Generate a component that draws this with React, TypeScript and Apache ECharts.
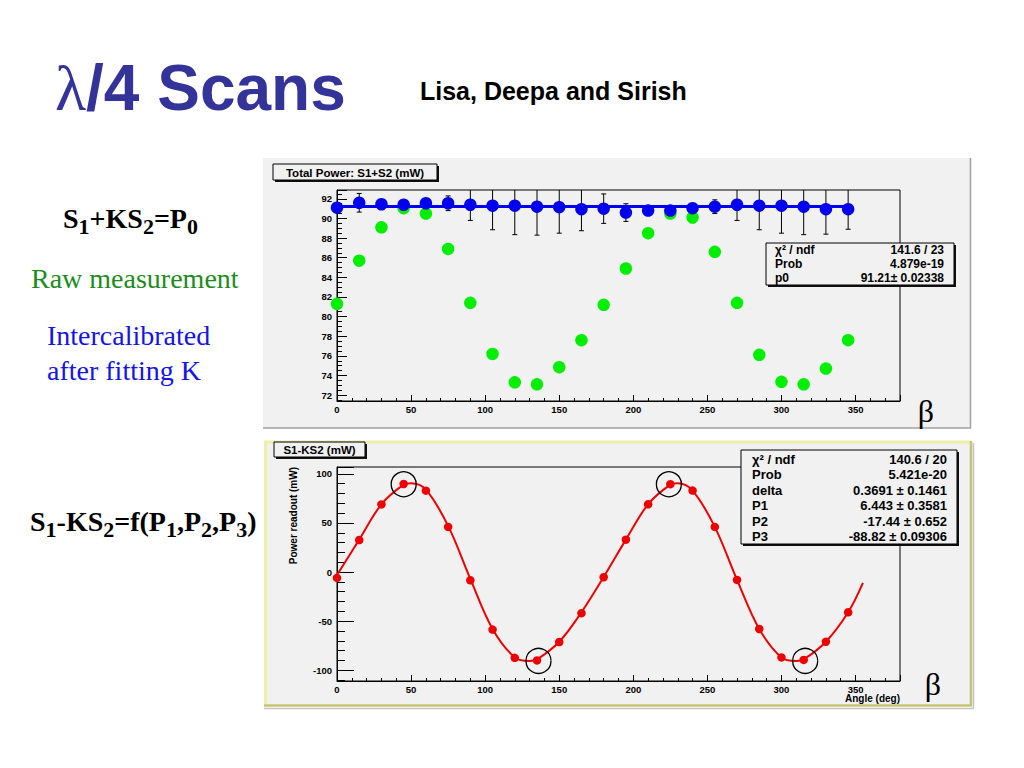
import { useEffect, useRef } from 'react';
import * as echarts from 'echarts';

// ---------- data ----------
const angles = [0, 15, 30, 45, 60, 75, 90, 105, 120, 135, 150, 165, 180, 195, 210, 225, 240, 255, 270, 285, 300, 315, 330, 345];
const intercalibrated = [91.1, 91.6, 91.45, 91.4, 91.55, 91.55, 91.4, 91.3, 91.3, 91.2, 91.15, 90.95, 91.0, 90.6, 90.8, 90.8, 91.05, 91.2, 91.4, 91.3, 91.3, 91.2, 90.95, 90.95];
const intercalibratedErr = [0.2, 0.95, 0.2, 0.2, 0.2, 0.75, 1.6, 2.45, 2.95, 2.9, 2.65, 2.2, 1.5, 0.9, 0.2, 0.2, 0.2, 0.7, 1.6, 2.45, 2.8, 2.85, 2.55, 2.05];
const rawMeasurement = [81.3, 85.7, 89.1, 91.05, 90.5, 86.9, 81.4, 76.2, 73.3, 73.1, 74.85, 77.6, 81.2, 84.9, 88.5, 90.5, 90.1, 86.6, 81.4, 76.1, 73.35, 73.1, 74.7, 77.6];
const difference = [-6, 32.6, 68.9, 89.7, 82.9, 46, -8.4, -58.6, -87.4, -90, -71.3, -41.9, -5.3, 33, 69, 89.5, 83, 46, -8, -58, -87, -89.5, -71, -41];
const p0Value = 91.21;
const p0Range = [0, 347];
const fitCurveX = [0, 15, 30, 45, 50, 60, 75, 90, 105, 120, 130, 135, 150, 165, 180, 195, 210, 225, 230, 240, 255, 270, 285, 300, 310, 315, 330, 345, 355];
const fitCurveY = [-3, 33, 69, 89, 90.5, 84, 47, -7, -58, -87, -90.5, -89, -71, -41, -5, 33, 69, 89, 90.5, 83, 46, -8, -58, -87, -90.5, -89, -71, -41, -11];
const markedX = [45, 136, 224, 316];
const markedY = [89.5, -90.5, 89.5, -90.5];

const stats1Labels = ['χ² / ndf', 'Prob', 'p0'];
const stats1Values = ['141.6 / 23', '4.879e-19', '91.21± 0.02338'];
const stats2Labels = ['χ² / ndf', 'Prob', 'delta', 'P1', 'P2', 'P3'];
const stats2Values = ['140.6 / 20', '5.421e-20', '0.3691 ± 0.1461', '6.443 ± 0.3581', '-17.44 ± 0.652', '-88.82 ± 0.09306'];

const SANS = "'Liberation Sans', Arial, Helvetica, sans-serif";
const SERIF = "'Liberation Serif', 'Times New Roman', serif";
const PAD = '#f1f1f1';

function paveBox(x: number, y: number, w: number, h: number) {
  return [
    { type: 'rect', z: 50, shape: { x: x + 2, y: y + 2, width: w, height: h }, style: { fill: '#111' } },
    { type: 'rect', z: 51, shape: { x, y, width: w, height: h }, style: { fill: PAD, stroke: '#000', lineWidth: 1 } },
  ];
}

export default function App() {
  const ref = useRef<HTMLDivElement>(null);
  useEffect(() => {
    if (!ref.current) return;
    const chart = echarts.init(ref.current, undefined, { renderer: 'svg' });

    const axisLabelStyle = { color: '#000', fontFamily: SANS, fontWeight: 'bold' as const, fontSize: 9.5 };
    const xAxisCommon = {
      type: 'value', min: 0, max: 380, interval: 50,
      axisLine: { show: true, onZero: false, lineStyle: { color: '#000', width: 1 } },
      axisTick: { show: true, inside: true, length: 6, lineStyle: { color: '#000' } },
      minorTick: { show: true, splitNumber: 5, length: 3, lineStyle: { color: '#000' } },
      splitLine: { show: false },
      axisLabel: { ...axisLabelStyle, margin: 3, showMaxLabel: false },
    };

    const errorBarData = angles.map((a, i) => [a, intercalibrated[i], intercalibratedErr[i]]);

    const subRich = {
      b: { fontFamily: SERIF, fontWeight: 'bold', fontSize: 28, lineHeight: 38, fill: '#000' },
      s: { fontFamily: SERIF, fontWeight: 'bold', fontSize: 22, lineHeight: 19, verticalAlign: 'bottom', fill: '#000' },
    };

    const graphic: any[] = [
      // top pad
      { type: 'rect', z: -10, shape: { x: 263, y: 158, width: 707, height: 270 }, style: { fill: PAD } },
      { type: 'line', z: -9, shape: { x1: 263, y1: 428, x2: 971, y2: 428 }, style: { stroke: '#a0a0a0', lineWidth: 1.5 } },
      { type: 'line', z: -9, shape: { x1: 970.5, y1: 158, x2: 970.5, y2: 428 }, style: { stroke: '#a0a0a0', lineWidth: 1.5 } },
      // bottom pad
      { type: 'rect', z: -10, shape: { x: 264, y: 441, width: 707, height: 265 }, style: { fill: PAD } },
      { type: 'line', z: -9, shape: { x1: 264, y1: 442, x2: 971, y2: 442 }, style: { stroke: '#eeeea8', lineWidth: 3 } },
      { type: 'line', z: -9, shape: { x1: 265.5, y1: 441, x2: 265.5, y2: 706 }, style: { stroke: '#eeeea8', lineWidth: 3 } },
      { type: 'line', z: -9, shape: { x1: 264, y1: 705.5, x2: 972, y2: 705.5 }, style: { stroke: '#c4c470', lineWidth: 2.5 } },
      { type: 'line', z: -9, shape: { x1: 971, y1: 441, x2: 971, y2: 706 }, style: { stroke: '#c4c470', lineWidth: 2.5 } },
      { type: 'line', z: -9, shape: { x1: 264, y1: 708.5, x2: 974, y2: 708.5 }, style: { stroke: '#c4c4c4', lineWidth: 1.5 } },
      { type: 'line', z: -9, shape: { x1: 973.5, y1: 443, x2: 973.5, y2: 708 }, style: { stroke: '#c4c4c4', lineWidth: 1.5 } },

      // title
      {
        type: 'text', z: 60, x: 55, y: 88,
        style: {
          text: '{l|λ}{t|/4 Scans}', verticalAlign: 'middle', align: 'left',
          rich: {
            l: { fontFamily: SERIF, fontSize: 64, fill: '#333399', fontWeight: 'normal' },
            t: { fontFamily: SANS, fontSize: 64, fill: '#333399', fontWeight: 'bold' },
          },
        },
      },
      { type: 'text', z: 60, x: 420, y: 91, style: { text: 'Lisa, Deepa and Sirish', fontFamily: SANS, fontWeight: 'bold', fontSize: 25, fill: '#000', verticalAlign: 'middle' } },

      // left annotations
      {
        type: 'text', z: 60, x: 63, y: 218,
        style: { text: '{b|S}{s|1}{b|+KS}{s|2}{b|=P}{s|0}', verticalAlign: 'middle', rich: subRich },
      },
      { type: 'text', z: 60, x: 31, y: 278, style: { text: 'Raw measurement', fontFamily: SERIF, fontSize: 28, fill: '#1d8c1d', verticalAlign: 'middle' } },
      { type: 'text', z: 60, x: 47, y: 335, style: { text: 'Intercalibrated', fontFamily: SERIF, fontSize: 28, fill: '#1414e6', verticalAlign: 'middle' } },
      { type: 'text', z: 60, x: 47, y: 370, style: { text: 'after fitting K', fontFamily: SERIF, fontSize: 28, fill: '#1414e6', verticalAlign: 'middle' } },
      {
        type: 'text', z: 60, x: 30, y: 521,
        style: { text: '{b|S}{s|1}{b|-KS}{s|2}{b|=f(P}{s|1}{b|,P}{s|2}{b|,P}{s|3}{b|)}', verticalAlign: 'middle', rich: subRich },
      },

      // title boxes
      ...paveBox(273, 164, 164, 16),
      { type: 'text', z: 52, x: 355, y: 172.5, style: { text: 'Total Power: S1+S2 (mW)', fontFamily: SANS, fontWeight: 'bold', fontSize: 11.5, fill: '#000', align: 'center', verticalAlign: 'middle' } },
      ...paveBox(274, 442, 91, 15),
      { type: 'text', z: 52, x: 319.5, y: 450, style: { text: 'S1-KS2 (mW)', fontFamily: SANS, fontWeight: 'bold', fontSize: 11.5, fill: '#000', align: 'center', verticalAlign: 'middle' } },

      // stats boxes
      ...paveBox(766, 243, 188, 42),
      { type: 'text', z: 52, x: 775, y: 243, style: { text: stats1Labels.join('\n'), fontFamily: SANS, fontWeight: 'bold', fontSize: 12, lineHeight: 14, fill: '#000', align: 'left', verticalAlign: 'top' } },
      { type: 'text', z: 52, x: 944, y: 243, style: { text: stats1Values.join('\n'), fontFamily: SANS, fontWeight: 'bold', fontSize: 12, lineHeight: 14, fill: '#000', align: 'right', verticalAlign: 'top' } },
      ...paveBox(741, 450, 216, 94),
      { type: 'text', z: 52, x: 752, y: 451.5, style: { text: stats2Labels.join('\n'), fontFamily: SANS, fontWeight: 'bold', fontSize: 13, lineHeight: 15.5, fill: '#000', align: 'left', verticalAlign: 'top' } },
      { type: 'text', z: 52, x: 947, y: 451.5, style: { text: stats2Values.join('\n'), fontFamily: SANS, fontWeight: 'bold', fontSize: 13, lineHeight: 15.5, fill: '#000', align: 'right', verticalAlign: 'top' } },

      // beta labels
      { type: 'text', z: 60, x: 926, y: 411, style: { text: 'β', fontFamily: SERIF, fontSize: 32, fill: '#000', align: 'center', verticalAlign: 'middle' } },
      { type: 'text', z: 60, x: 933, y: 684, style: { text: 'β', fontFamily: SERIF, fontSize: 32, fill: '#000', align: 'center', verticalAlign: 'middle' } },

      // axis titles
      { type: 'text', z: 60, x: 900, y: 698, style: { text: 'Angle (deg)', fontFamily: SANS, fontWeight: 'bold', fontSize: 10, fill: '#000', align: 'right', verticalAlign: 'middle' } },
      { type: 'text', z: 60, x: 293, y: 467, rotation: Math.PI / 2, style: { text: 'Power readout (mW)', fontFamily: SANS, fontWeight: 'bold', fontSize: 10, fill: '#000', align: 'right', verticalAlign: 'middle', x: 0, y: 0 } },
    ];

    chart.setOption({
      animation: false,
      backgroundColor: '#ffffff',
      grid: [
        { left: 337, width: 563, top: 190, height: 211, show: true, borderColor: '#000', borderWidth: 1, backgroundColor: 'transparent', containLabel: false },
        { left: 337, width: 563, top: 467, height: 214, show: true, borderColor: '#000', borderWidth: 1, backgroundColor: 'transparent', containLabel: false },
      ],
      xAxis: [
        { ...xAxisCommon, gridIndex: 0 },
        { ...xAxisCommon, gridIndex: 1 },
      ],
      yAxis: [
        {
          type: 'value', gridIndex: 0, min: 71.4, max: 92.9, splitNumber: 10,
          axisLine: { show: true, onZero: false, lineStyle: { color: '#000', width: 1 } },
          axisTick: { show: true, inside: true, length: 10, lineStyle: { color: '#000' } },
          minorTick: { show: true, splitNumber: 4, length: 5, lineStyle: { color: '#000' } },
          splitLine: { show: false },
          axisLabel: { ...axisLabelStyle, margin: 5, showMinLabel: false, showMaxLabel: false },
        },
        {
          type: 'value', gridIndex: 1, min: -111, max: 107, splitNumber: 4,
          axisLine: { show: true, onZero: false, lineStyle: { color: '#000', width: 1 } },
          axisTick: { show: true, inside: true, length: 17, lineStyle: { color: '#000' } },
          minorTick: { show: true, splitNumber: 5, length: 8, lineStyle: { color: '#000' } },
          splitLine: { show: false },
          axisLabel: { ...axisLabelStyle, margin: 5, showMinLabel: false, showMaxLabel: false },
        },
      ],
      graphic,
      series: [
        {
          name: 'Raw measurement', type: 'scatter', xAxisIndex: 0, yAxisIndex: 0, z: 2,
          symbol: 'circle', symbolSize: 12.5, itemStyle: { color: '#00ee00', opacity: 1 },
          data: angles.map((a, i) => [a, rawMeasurement[i]]),
        },
        {
          name: 'Errors', type: 'custom', xAxisIndex: 0, yAxisIndex: 0, z: 3, clip: true,
          data: errorBarData,
          encode: { x: 0, y: 1 },
          renderItem: (_params: any, api: any) => {
            const x = api.value(0), y = api.value(1), e = api.value(2);
            const top = api.coord([x, y + e]);
            const bot = api.coord([x, y - e]);
            const cap = 2.5;
            const style = { stroke: '#000', lineWidth: 1 };
            return {
              type: 'group',
              children: [
                { type: 'line', shape: { x1: top[0], y1: top[1], x2: bot[0], y2: bot[1] }, style },
                { type: 'line', shape: { x1: top[0] - cap, y1: top[1], x2: top[0] + cap, y2: top[1] }, style },
                { type: 'line', shape: { x1: bot[0] - cap, y1: bot[1], x2: bot[0] + cap, y2: bot[1] }, style },
              ],
            };
          },
        },
        {
          name: 'Intercalibrated', type: 'scatter', xAxisIndex: 0, yAxisIndex: 0, z: 4,
          symbol: 'circle', symbolSize: 12.5, itemStyle: { color: '#0000ee', opacity: 1 },
          data: angles.map((a, i) => [a, intercalibrated[i]]),
        },
        {
          name: 'p0 fit', type: 'line', xAxisIndex: 0, yAxisIndex: 0, z: 5,
          symbol: 'none', lineStyle: { color: '#0000ee', width: 3 },
          data: p0Range.map((a) => [a, p0Value]),
        },
        {
          name: 'fit', type: 'line', xAxisIndex: 1, yAxisIndex: 1, z: 3,
          symbol: 'none', smooth: 0.35, lineStyle: { color: '#ee0000', width: 2 },
          data: fitCurveX.map((a, i) => [a, fitCurveY[i]]),
        },
        {
          name: 'S1-KS2', type: 'scatter', xAxisIndex: 1, yAxisIndex: 1, z: 4,
          symbol: 'circle', symbolSize: 8.5, itemStyle: { color: '#ee0000', opacity: 1 },
          data: angles.map((a, i) => [a, difference[i]]),
        },
        {
          name: 'extrema', type: 'scatter', xAxisIndex: 1, yAxisIndex: 1, z: 6,
          symbol: 'circle', symbolSize: 25,
          itemStyle: { color: 'rgba(0,0,0,0)', borderColor: '#000', borderWidth: 1.3, opacity: 1 },
          data: markedX.map((a, i) => [a, markedY[i]]),
        },
      ],
    });
    return () => chart.dispose();
  }, []);

  return <div ref={ref} style={{ position: 'fixed', left: 0, top: 0, width: 1024, height: 768, background: '#fff' }} />;
}
